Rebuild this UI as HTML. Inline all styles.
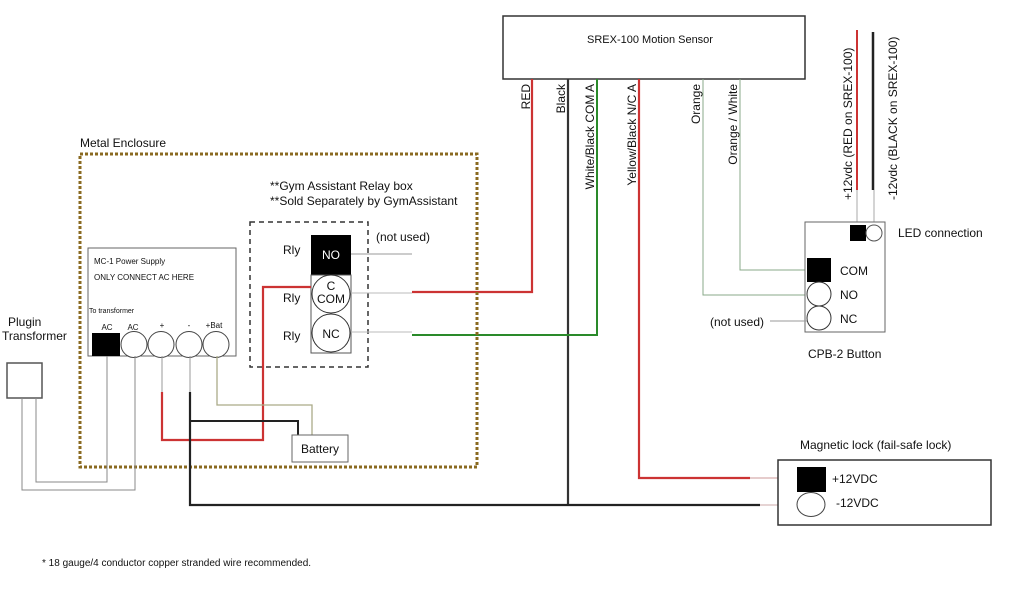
<!DOCTYPE html>
<html><head><meta charset="utf-8"><style>
html,body{margin:0;padding:0;background:#fff;width:1024px;height:600px;overflow:hidden}
svg text{font-family:"Liberation Sans",sans-serif;fill:#111}
</style></head><body>
<svg width="1024" height="600" viewBox="0 0 1024 600" xmlns="http://www.w3.org/2000/svg">
<rect x="503" y="16" width="302" height="63" fill="#fff" stroke="#333" stroke-width="1.5"/>
<text x="650" y="43" font-size="11" text-anchor="middle">SREX-100 Motion Sensor</text>
<g font-size="12" text-anchor="end">
<text transform="translate(530,84) rotate(-90)">RED</text>
<text transform="translate(565,84) rotate(-90)">Black</text>
<text transform="translate(594,84) rotate(-90)">White/Black COM A</text>
<text transform="translate(636,84) rotate(-90)">Yellow/Black  N/C A</text>
<text transform="translate(700,84) rotate(-90)">Orange</text>
<text transform="translate(737,84) rotate(-90)">Orange / White</text>
</g>
<g font-size="12">
<text transform="translate(852,200) rotate(-90)">+12vdc (RED on SREX-100)</text>
<text transform="translate(897,200) rotate(-90)">-12vdc (BLACK on SREX-100)</text>
</g>
<polyline points="532,79 532,292 412,292" fill="none" stroke="#c33" stroke-width="2.2"/>
<line x1="568" y1="79" x2="568" y2="506" stroke="#333" stroke-width="2.2"/>
<polyline points="597,79 597,335 412,335" fill="none" stroke="#2a8a2a" stroke-width="2"/>
<polyline points="639,79 639,478 750,478" fill="none" stroke="#c33" stroke-width="2.2"/>
<line x1="750" y1="478" x2="797" y2="478" stroke="#c99" stroke-width="1"/>
<polyline points="703,79 703,295 807,295" fill="none" stroke="#8a8" stroke-width="1"/>
<polyline points="740,79 740,270 807,270" fill="none" stroke="#8a8" stroke-width="1"/>
<line x1="857" y1="30" x2="857" y2="190" stroke="#c33" stroke-width="2"/>
<line x1="873" y1="32" x2="873" y2="190" stroke="#222" stroke-width="2.5"/>
<line x1="857" y1="190" x2="857" y2="226" stroke="#aaa" stroke-width="1"/>
<line x1="874" y1="190" x2="874" y2="226" stroke="#aaa" stroke-width="1"/>
<rect x="805" y="222" width="80" height="110" fill="#fff" stroke="#666" stroke-width="1"/>
<rect x="850" y="225" width="16" height="16" fill="#000"/>
<circle cx="874" cy="233" r="8" fill="#fff" stroke="#555"/>
<rect x="807" y="258" width="24" height="24" fill="#000"/>
<circle cx="819" cy="294" r="12" fill="#fff" stroke="#333"/>
<circle cx="819" cy="318" r="12" fill="#fff" stroke="#333"/>
<text x="840" y="275" font-size="12">COM</text>
<text x="840" y="299" font-size="12">NO</text>
<text x="840" y="323" font-size="12">NC</text>
<text x="898" y="237" font-size="12">LED connection</text>
<text x="710" y="326" font-size="12">(not used)</text>
<line x1="770" y1="321" x2="807" y2="321" stroke="#999" stroke-width="1"/>
<text x="808" y="358" font-size="12">CPB-2 Button</text>
<rect x="80" y="154" width="397" height="313" fill="none" stroke="#8a6a20" stroke-width="3" stroke-dasharray="3,2"/>
<text x="80" y="147" font-size="12">Metal Enclosure</text>
<text x="270" y="190" font-size="12">**Gym Assistant Relay box</text>
<text x="270" y="205" font-size="12">**Sold Separately by GymAssistant</text>
<rect x="250" y="222" width="118" height="145" fill="none" stroke="#333" stroke-width="1.5" stroke-dasharray="5,4"/>
<rect x="311" y="235" width="40" height="40" fill="#000"/>
<text x="331" y="259" font-size="12" style="fill:#fff" text-anchor="middle">NO</text>
<rect x="311" y="275" width="40" height="78" fill="#fff" stroke="#555"/>
<circle cx="331" cy="294" r="19" fill="#fff" stroke="#333"/>
<circle cx="331" cy="333" r="19" fill="#fff" stroke="#333"/>
<text x="331" y="290" font-size="12" text-anchor="middle">C</text>
<text x="331" y="303" font-size="12" text-anchor="middle">COM</text>
<text x="331" y="338" font-size="12" text-anchor="middle">NC</text>
<text x="283" y="254" font-size="12">Rly</text>
<text x="283" y="302" font-size="12">Rly</text>
<text x="283" y="340" font-size="12">Rly</text>
<text x="376" y="241" font-size="12">(not used)</text>
<line x1="351" y1="254" x2="412" y2="254" stroke="#999"/>
<line x1="351" y1="293" x2="412" y2="293" stroke="#bbb"/>
<line x1="351" y1="332" x2="412" y2="332" stroke="#bbb"/>
<rect x="88" y="248" width="148" height="108" fill="#fff" stroke="#666"/>
<text x="94" y="264" font-size="8" fill="#555">MC-1 Power Supply</text>
<text x="94" y="280" font-size="8" fill="#555">ONLY CONNECT AC HERE</text>
<text x="89" y="313" font-size="7">To transformer</text>
<g font-size="8" text-anchor="middle" fill="#444"><text x="107" y="330">AC</text><text x="133" y="330">AC</text><text x="162" y="328">+</text><text x="189" y="328">-</text><text x="214" y="328">+Bat</text></g>
<rect x="92" y="333" width="28" height="23" fill="#000"/>
<circle cx="134" cy="344.5" r="13" fill="#fff" stroke="#444"/>
<circle cx="161" cy="344.5" r="13" fill="#fff" stroke="#444"/>
<circle cx="189" cy="344.5" r="13" fill="#fff" stroke="#444"/>
<circle cx="216" cy="344.5" r="13" fill="#fff" stroke="#444"/>
<text x="8" y="326" font-size="12">Plugin</text>
<text x="2" y="340" font-size="12">Transformer</text>
<rect x="7" y="363" width="35" height="35" fill="#fff" stroke="#555" stroke-width="1.5"/>
<polyline points="22,398 22,490 135,490 135,356" fill="none" stroke="#888"/>
<polyline points="36,398 36,482 107,482 107,356" fill="none" stroke="#888"/>
<polyline points="162,356 162,392" fill="none" stroke="#999"/>
<polyline points="162,392 162,440 263,440 263,287 311,287" fill="none" stroke="#c33" stroke-width="2.2"/>
<line x1="190" y1="356" x2="190" y2="392" stroke="#999"/>
<polyline points="190,392 190,505 760,505" fill="none" stroke="#222" stroke-width="2.2"/>
<line x1="760" y1="505" x2="797" y2="505" stroke="#caa"/>
<polyline points="190,421 298,421 298,435" fill="none" stroke="#222" stroke-width="2"/>
<polyline points="217,356 217,405 312,405 312,435" fill="none" stroke="#aa8" stroke-width="1.3"/>
<rect x="292" y="435" width="56" height="27" fill="#fff" stroke="#666"/>
<text x="320" y="453" font-size="12" text-anchor="middle">Battery</text>
<text x="800" y="449" font-size="12">Magnetic lock (fail-safe lock)</text>
<rect x="778" y="460" width="213" height="65" fill="#fff" stroke="#333" stroke-width="1.5"/>
<rect x="797" y="467" width="29" height="25" fill="#000"/>
<ellipse cx="811" cy="504.5" rx="14" ry="12" fill="#fff" stroke="#444"/>
<text x="832" y="483" font-size="12">+12VDC</text>
<text x="836" y="507" font-size="12">-12VDC</text>
<text x="42" y="566" font-size="10">* 18 gauge/4 conductor copper stranded wire recommended.</text>
</svg>
</body></html>
